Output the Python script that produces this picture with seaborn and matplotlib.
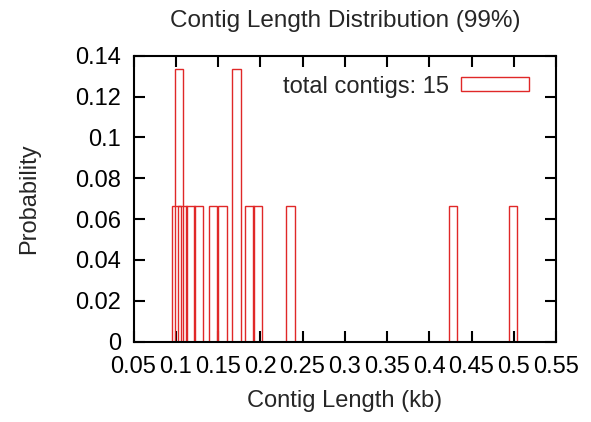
import matplotlib
matplotlib.use("Agg")
import matplotlib.pyplot as plt
import matplotlib.patches as mpatches
import numpy as np
import pandas as pd
import seaborn as sns

lengths = [0.1011, 0.1039, 0.1082, 0.1176, 0.1266, 0.1440, 0.1553,
           0.1718, 0.1874, 0.1968, 0.2356, 0.4283, 0.4992]
counts = [1, 2, 1, 1, 1, 1, 1, 2, 1, 1, 1, 1, 1]
total_contigs = 15

x_ticks = [0.05, 0.1, 0.15, 0.2, 0.25, 0.3, 0.35, 0.4, 0.45, 0.5, 0.55]
x_tick_labels = ["0.05", "0.1", "0.15", "0.2", "0.25", "0.3", "0.35", "0.4", "0.45", "0.5", "0.55"]
y_ticks = [0, 0.02, 0.04, 0.06, 0.08, 0.1, 0.12, 0.14]
y_tick_labels = ["0", "0.02", "0.04", "0.06", "0.08", "0.1", "0.12", "0.14"]

box_width = 0.0102
red = "#e02828"

sns.set_style("ticks")
plt.rcParams["font.family"] = ["Liberation Sans", "DejaVu Sans"]

df = pd.DataFrame({"length": lengths, "count": counts})
df["prob"] = df["count"] / total_contigs

fig = plt.figure(figsize=(5.91, 4.22), dpi=100)
ax = fig.add_axes([0.2259, 0.1903, 0.9408 - 0.2259, 0.868 - 0.1903])

# one box per distinct length, centred on it (gnuplot "with boxes" look)
for _, row in df.iterrows():
    sns.histplot(x=[row["length"]], weights=[row["prob"]],
                 binrange=(row["length"] - box_width / 2, row["length"] + box_width / 2),
                 bins=1, fill=False, color=red, linewidth=1.0, ax=ax)

ax.set_xlim(0.05, 0.55)
ax.set_ylim(0, 0.14)
ax.set_xticks(x_ticks)
ax.set_xticklabels(x_tick_labels)
ax.set_yticks(y_ticks)
ax.set_yticklabels(y_tick_labels)
ax.tick_params(direction="in", length=8, width=1.5, labelsize=17, colors="black",
               top=True, right=True)
ax.tick_params(axis="x", pad=10)
ax.tick_params(axis="y", pad=9)
for s in ax.spines.values():
    s.set_linewidth(1.5)
    s.set_color("black")
    s.set_visible(True)

ax.set_xlabel("Contig Length (kb)", fontsize=17, labelpad=9)
ax.set_ylabel("Probability", fontsize=17, labelpad=25)
ax.set_title("Contig Length Distribution (99%)", fontsize=17.5, pad=21)

handle = mpatches.Patch(facecolor="white", edgecolor=red, linewidth=1.0)
ax.legend([handle], [f"total contigs: {total_contigs}"], loc="upper right",
          bbox_to_anchor=(0.97, 0.98), frameon=False, markerfirst=False,
          fontsize=17, handlelength=2.9, handleheight=0.5, handletextpad=0.5,
          borderaxespad=0.2)

fig.savefig("out.png", dpi=100)
